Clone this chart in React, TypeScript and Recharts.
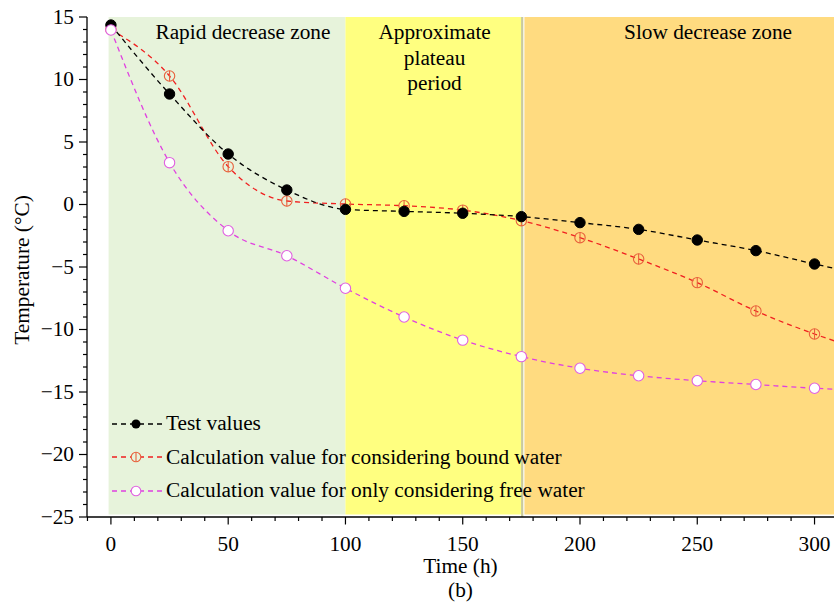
import React from 'react';
import {
  ComposedChart,
  Line,
  XAxis,
  YAxis,
  ReferenceArea,
  ReferenceLine,
  ReferenceDot,
  Legend,
} from 'recharts';

const FONT = '"Liberation Serif", "Times New Roman", serif';
const FS = 21.3;

// ---- data ----
const hours = [0, 25, 50, 75, 100, 125, 150, 175, 200, 225, 250, 275, 300, 325];
const testValues = [14.36, 8.84, 4.04, 1.16, -0.39, -0.55, -0.7, -0.97, -1.45, -1.99, -2.84, -3.69, -4.76, -5.8];
const boundWater = [14.0, 10.28, 3.03, 0.28, 0.04, -0.1, -0.45, -1.29, -2.65, -4.36, -6.25, -8.52, -10.36, -11.9];
const freeWater = [13.96, 3.35, -2.1, -4.1, -6.7, -9.0, -10.85, -12.17, -13.1, -13.7, -14.1, -14.4, -14.7, -14.9];

const xTicks = [-10, 0, 10, 20, 30, 40, 50, 60, 70, 80, 90, 100, 110, 120, 130, 140, 150, 160, 170, 180, 190, 200, 210, 220, 230, 240, 250, 260, 270, 280, 290, 300];
const xMajor = [0, 50, 100, 150, 200, 250, 300];
const yTicks = Array.from({ length: 41 }, (_, i) => -25 + i);
const yMajor = [-25, -20, -15, -10, -5, 0, 5, 10, 15];

const zoneStarts = [-1, 100, 176.3];
const zoneEnds = [100, 175, 335];
const zoneColors = ['#E7F3DB', '#FFFF80', '#FFDB80'];
const zoneLabels = [['Rapid decrease zone'], ['Approximate', 'plateau', 'period'], ['Slow decrease zone']];
const zoneLabelAt = [56.3, 138, 254.6];

const seriesNames = {
  test: 'Test values',
  bound: 'Calculation value for considering bound water',
  free: 'Calculation value for only considering free water',
};

const data = hours.map((h, i) => ({
  hours: h,
  test: testValues[i],
  bound: boundWater[i],
  free: freeWater[i],
}));

const minus = (v: number) => String(v).replace('-', '\u2212');

const XTick = (props: any) => {
  const { x, y, payload } = props;
  const major = xMajor.includes(payload.value);
  return (
    <g>
      <line x1={x} x2={x} y1={y} y2={y + (major ? 7.5 : 4)} stroke="#000" strokeWidth={1.2} />
      {major && (
        <text x={x} y={y + 34} textAnchor="middle" fontFamily={FONT} fontSize={FS} fill="#000">
          {minus(payload.value)}
        </text>
      )}
    </g>
  );
};

const YTick = (props: any) => {
  const { x, y, payload } = props;
  const major = yMajor.includes(payload.value);
  return (
    <g>
      <line x1={x} x2={x - (major ? 8 : 4)} y1={y} y2={y} stroke="#000" strokeWidth={1.2} />
      {major && (
        <text x={x - 13} y={y + 6.5} textAnchor="end" fontFamily={FONT} fontSize={FS} fill="#000">
          {minus(payload.value)}
        </text>
      )}
    </g>
  );
};

const BoundDot = (props: any) => {
  const { cx, cy } = props;
  if (cx == null || cy == null) return <g />;
  return (
    <g>
      <circle cx={cx} cy={cy} r={5.2} fill="none" stroke="#E8603C" strokeWidth={1.1} />
      <line x1={cx} x2={cx} y1={cy - 5.2} y2={cy + 5.2} stroke="#E8603C" strokeWidth={1.1} />
    </g>
  );
};

const TestDot = (props: any) => {
  const { cx, cy } = props;
  if (cx == null || cy == null) return <g />;
  return <circle cx={cx} cy={cy} r={5.2} fill="#000" stroke="#000" strokeWidth={1} />;
};

const FreeDot = (props: any) => {
  const { cx, cy } = props;
  if (cx == null || cy == null) return <g />;
  return <circle cx={cx} cy={cy} r={5.2} fill="#fff" stroke="#E060E0" strokeWidth={1.1} />;
};

const legendIcon = (key: string) => {
  const dash = '5 4';
  if (key === 'test') {
    return (
      <svg width={56} height={20}>
        <line x1={2} x2={52} y1={10} y2={10} stroke="#000" strokeWidth={1.3} strokeDasharray={dash} />
        <circle cx={26} cy={10} r={4.5} fill="#000" />
      </svg>
    );
  }
  if (key === 'bound') {
    return (
      <svg width={56} height={20}>
        <line x1={2} x2={52} y1={10} y2={10} stroke="#F02020" strokeWidth={1.3} strokeDasharray={dash} />
        <circle cx={26} cy={10} r={4.8} fill="#E7F3DB" stroke="#E8603C" strokeWidth={1.1} />
        <line x1={26} x2={26} y1={5.2} y2={14.8} stroke="#E8603C" strokeWidth={1.1} />
      </svg>
    );
  }
  return (
    <svg width={56} height={20}>
      <line x1={2} x2={52} y1={10} y2={10} stroke="#E040E0" strokeWidth={1.3} strokeDasharray={dash} />
      <circle cx={26} cy={10} r={4.8} fill="#fff" stroke="#E060E0" strokeWidth={1.1} />
    </svg>
  );
};

const renderLegend = (props: any) => {
  const { payload } = props;
  return (
    <div style={{ fontFamily: FONT, fontSize: FS, color: '#000' }}>
      {(payload || []).map((entry: any) => (
        <div
          key={entry.dataKey}
          style={{ display: 'flex', alignItems: 'center', height: 33.5, whiteSpace: 'nowrap' }}
        >
          {legendIcon(entry.dataKey)}
          <span style={{ marginLeft: 0 }}>{entry.value}</span>
        </div>
      ))}
    </div>
  );
};

const zoneLabelContent = (lines: string[]) => (props: any) => {
  const vb = props.viewBox || {};
  const cx = vb.x + (vb.width || 0) / 2;
  const top = vb.y + (vb.height || 0) / 2;
  return (
    <text textAnchor="middle" fontFamily={FONT} fontSize={FS} fill="#000">
      {lines.map((l, i) => (
        <tspan key={i} x={cx} y={top + 22 + i * 25.5}>
          {l}
        </tspan>
      ))}
    </text>
  );
};

const XLabel = (props: any) => {
  const vb = props.viewBox;
  const cx = vb.x + vb.width / 2;
  return (
    <text textAnchor="middle" fontFamily={FONT} fontSize={FS} fill="#000">
      <tspan x={cx} y={vb.y + 56}>Time (h)</tspan>
      <tspan x={cx} y={vb.y + 80}>(b)</tspan>
    </text>
  );
};

const YLabel = (props: any) => {
  const vb = props.viewBox;
  const cx = vb.x + 22;
  const cy = vb.y + vb.height / 2 + 3;
  return (
    <text
      x={cx}
      y={cy}
      transform={`rotate(-90, ${cx}, ${cy})`}
      textAnchor="middle"
      dominantBaseline="central"
      fontFamily={FONT}
      fontSize={FS}
      fill="#000"
    >
      Temperature (°C)
    </text>
  );
};

export default function App() {
  return (
    <div style={{ position: 'absolute', left: 0, top: 0, background: '#fff' }}>
      <ComposedChart
        width={834}
        height={604}
        data={data}
        margin={{ top: 17, right: 0, left: 0, bottom: 0 }}
        style={{ fontFamily: FONT }}
      >
        {zoneStarts.map((s, i) => (
          <ReferenceArea
            key={'z' + i}
            x1={s}
            x2={zoneEnds[i]}
            y1={-24.8}
            y2={15}
            fill={zoneColors[i]}
            fillOpacity={1}
            stroke="none"
            ifOverflow="hidden"
          />
        ))}
        <ReferenceLine x={175.35} stroke="#CACA9C" strokeWidth={2.2} ifOverflow="hidden" />
        {zoneLabels.map((lines, i) => (
          <ReferenceDot
            key={'l' + i}
            x={zoneLabelAt[i]}
            y={15}
            r={1}
            fill="none"
            stroke="none"
            ifOverflow="visible"
            label={{ content: zoneLabelContent(lines) }}
          />
        ))}
        <XAxis
          type="number"
          dataKey="hours"
          domain={[-10.2, 308.3]}
          allowDataOverflow
          ticks={xTicks}
          interval={0}
          tickLine={false}
          tickSize={0}
          tickMargin={0}
          height={87}
          axisLine={{ stroke: '#000', strokeWidth: 1.3 }}
          tick={(p: any) => <XTick {...p} />}
          label={{ content: (p: any) => <XLabel {...p} /> }}
        />
        <YAxis
          type="number"
          domain={[-25, 15]}
          allowDataOverflow
          ticks={yTicks}
          interval={0}
          tickLine={false}
          tickSize={0}
          tickMargin={0}
          width={87}
          axisLine={{ stroke: '#000', strokeWidth: 1.3 }}
          tick={(p: any) => <YTick {...p} />}
          label={{ content: (p: any) => <YLabel {...p} /> }}
        />
        <Line
          type="monotone"
          dataKey="bound"
          name={seriesNames.bound}
          stroke="#F02020"
          strokeWidth={1.3}
          strokeDasharray="5 4"
          dot={(p: any) => <BoundDot key={'b' + p.index} {...p} />}
          activeDot={false}
          isAnimationActive={false}
          legendType="line"
        />
        <Line
          type="monotone"
          dataKey="test"
          name={seriesNames.test}
          stroke="#000"
          strokeWidth={1.3}
          strokeDasharray="5 4"
          dot={(p: any) => <TestDot key={'t' + p.index} {...p} />}
          activeDot={false}
          isAnimationActive={false}
        />
        <Line
          type="monotone"
          dataKey="free"
          name={seriesNames.free}
          stroke="#E040E0"
          strokeWidth={1.3}
          strokeDasharray="5 4"
          dot={(p: any) => <FreeDot key={'f' + p.index} {...p} />}
          activeDot={false}
          isAnimationActive={false}
        />
        <Legend
          layout="vertical"
          align="center"
          verticalAlign="middle"
          content={renderLegend}
          itemSorter={(item: any) => ['test', 'bound', 'free'].indexOf(item.dataKey)}
          wrapperStyle={{ left: 110, top: 407, width: 580, height: 101 }}
        />
      </ComposedChart>
    </div>
  );
}
